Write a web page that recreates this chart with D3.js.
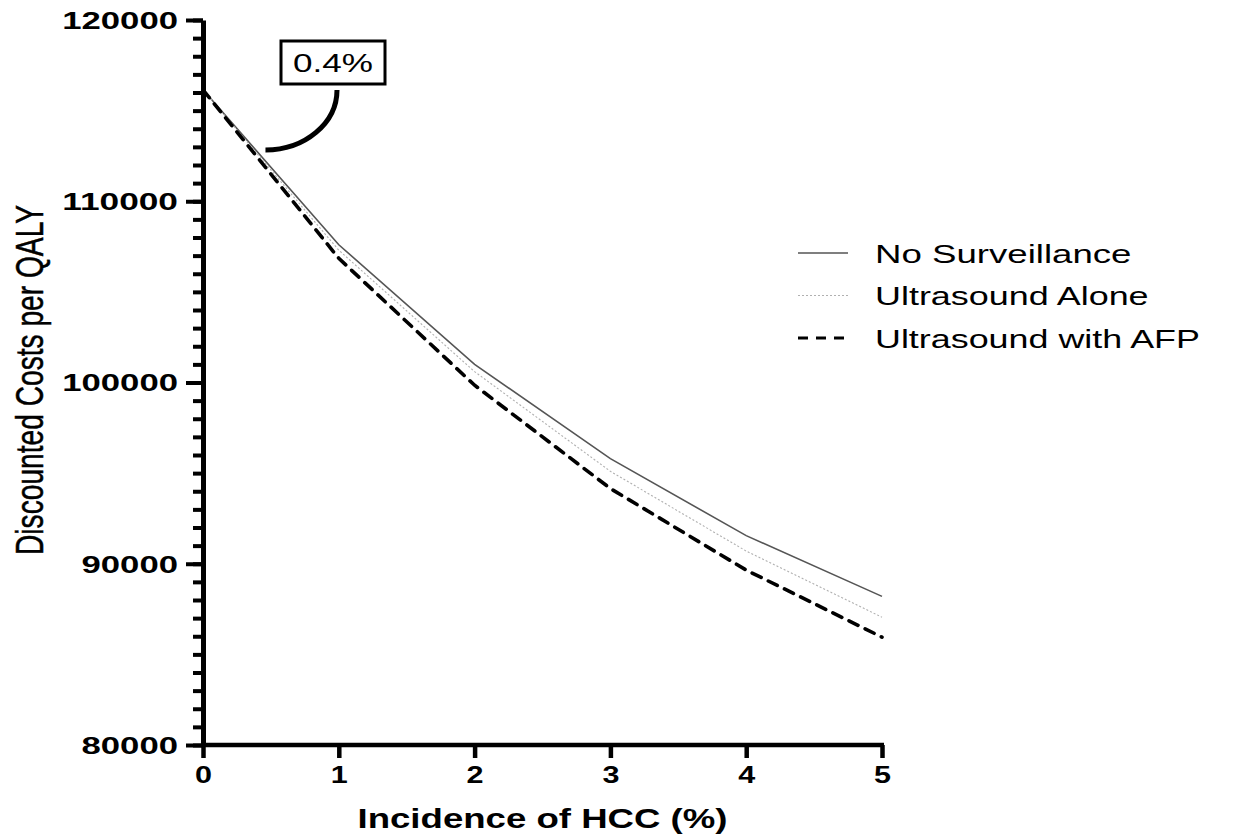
<!DOCTYPE html>
<html>
<head>
<meta charset="utf-8">
<script src="https://cdn.jsdelivr.net/npm/d3@7"></script>
<style>
  body { margin: 0; background: #fff; }
  text { font-family: "Liberation Sans", Arial, sans-serif; fill: #000; }
</style>
</head>
<body>
<svg></svg>
<script>
// values
const incidence = [0, 1, 2, 3, 4, 5];
const noSurveillance = [116150, 107600, 101000, 95800, 91550, 88200];
const ultrasoundAlone = [116150, 107300, 100600, 95100, 90700, 87050];
const ultrasoundAFP = [116150, 106850, 99850, 94150, 89650, 85950];

const seriesNames = ["No Surveillance", "Ultrasound Alone", "Ultrasound with AFP"];
const yMajorTicks = [80000, 90000, 100000, 110000, 120000];
const xTicks = [0, 1, 2, 3, 4, 5];
const thresholdLabel = "0.4%";

let width = 1233;
let height = 840;
let svg = d3.select('svg').attr('width', width).attr('height', height);

const xScale = d3.scaleLinear().domain([0, 5]).range([203, 882]);
const yScale = d3.scaleLinear().domain([80000, 120000]).range([745, 20]);

const styles = [
    { stroke: '#555', width: 1.6, dash: null },
    { stroke: '#b0b0b0', width: 1.1, dash: '2,2' },
    { stroke: '#000', width: 3.6, dash: '10,8' }
];
const allSeries = [noSurveillance, ultrasoundAlone, ultrasoundAFP];

// lines
const line = d3.line()
    .x((d, i) => xScale(incidence[i]))
    .y((d) => yScale(d));

svg.selectAll('path.series')
   .data(allSeries)
   .enter()
   .append('path')
   .attr('class', 'series')
   .attr('d', line)
   .attr('fill', 'none')
   .attr('stroke', (d, i) => styles[i].stroke)
   .attr('stroke-width', (d, i) => styles[i].width)
   .attr('stroke-dasharray', (d, i) => styles[i].dash)
   .attr('stroke-linecap', (d, i) => i == 2 ? 'round' : 'butt');

// y axis: minor ticks then major
const yMinor = d3.axisLeft(yScale)
    .tickValues(d3.range(80000, 120001, 1000))
    .tickSize(10)
    .tickFormat('');
svg.append('g')
   .attr('transform', 'translate(' + xScale(0) + ',0)')
   .call(yMinor)
   .call(g => g.select('.domain').remove())
   .selectAll('line').attr('stroke', '#000').attr('stroke-width', 4);

const yAxis = d3.axisLeft(yScale)
    .tickValues(yMajorTicks)
    .tickSize(17)
    .tickSizeOuter(0)
    .tickPadding(8)
    .tickFormat(d3.format('d'));
const gy = svg.append('g')
   .attr('id', 'y-axis')
   .attr('transform', 'translate(' + xScale(0) + ',0)')
   .call(yAxis);
gy.select('.domain').attr('stroke', '#000').attr('stroke-width', 5);
gy.selectAll('.tick line').attr('stroke', '#000').attr('stroke-width', 4);
gy.selectAll('.tick text')
  .attr('font-size', 23)
  .attr('font-weight', 'bold')
  .attr('dy', '0.36em')
  .attr('textLength', (d) => String(d).length * 19.3)
  .attr('lengthAdjust', 'spacingAndGlyphs');

// x axis
const xAxis = d3.axisBottom(xScale)
    .tickValues(xTicks)
    .tickSize(13)
    .tickSizeOuter(0)
    .tickPadding(9)
    .tickFormat(d3.format('d'));
const gx = svg.append('g')
   .attr('id', 'x-axis')
   .attr('transform', 'translate(0,' + yScale(80000) + ')')
   .call(xAxis);
gx.select('.domain').attr('stroke', '#000').attr('stroke-width', 4.5)
  .attr('d', 'M' + (xScale(0) - 2) + ',0H' + (xScale(5) + 2));
gx.selectAll('.tick line').attr('stroke', '#000').attr('stroke-width', 4.5);
gx.selectAll('.tick text')
  .attr('font-size', 23)
  .attr('font-weight', 'bold')
  .attr('textLength', 17)
  .attr('lengthAdjust', 'spacingAndGlyphs');

// axis titles
svg.append('text')
   .attr('x', (xScale(0) + xScale(5)) / 2)
   .attr('y', 828)
   .attr('text-anchor', 'middle')
   .attr('font-size', 28)
   .attr('font-weight', 'bold')
   .attr('textLength', 370)
   .attr('lengthAdjust', 'spacingAndGlyphs')
   .text('Incidence of HCC (%)');

svg.append('text')
   .attr('transform', 'translate(43,' + 380 + ') rotate(-90)')
   .attr('text-anchor', 'middle')
   .attr('font-size', 38)
   .attr('stroke', '#000')
   .attr('stroke-width', 0.5)
   .attr('textLength', 350)
   .attr('lengthAdjust', 'spacingAndGlyphs')
   .text('Discounted Costs per QALY');

// legend
const legend = svg.append('g');
seriesNames.forEach((name, i) => {
    let ly = 253 + i * 42.5;
    legend.append('line')
          .attr('x1', 798).attr('x2', 848)
          .attr('y1', ly).attr('y2', ly)
          .attr('stroke', styles[i].stroke)
          .attr('stroke-width', i == 2 ? 3.2 : styles[i].width)
          .attr('stroke-dasharray', styles[i].dash);
    legend.append('text')
          .attr('x', 875)
          .attr('y', ly + 9.5)
          .attr('font-size', 26)
          .attr('textLength', name.length * 17.1)
          .attr('lengthAdjust', 'spacingAndGlyphs')
          .text(name);
});

// 0.4% callout
const tipX = xScale(0.46), tipY = 150;
const boxCx = 333, boxTop = 41, boxBottom = 84;
svg.append('path')
   .attr('d', 'M' + (boxCx + 4) + ',' + (boxBottom + 6) +
              ' A' + (boxCx + 4 - tipX) + ',' + (tipY - boxBottom - 6) + ' 0 0 1 ' + tipX + ',' + tipY)
   .attr('fill', 'none')
   .attr('stroke', '#000')
   .attr('stroke-width', 5);
svg.append('rect')
   .attr('x', 281).attr('y', boxTop)
   .attr('width', 104).attr('height', boxBottom - boxTop)
   .attr('fill', '#fff')
   .attr('stroke', '#000')
   .attr('stroke-width', 3);
svg.append('text')
   .attr('x', boxCx)
   .attr('y', 72)
   .attr('text-anchor', 'middle')
   .attr('font-size', 26)
   .attr('textLength', 80)
   .attr('lengthAdjust', 'spacingAndGlyphs')
   .text(thresholdLabel);
</script>
</body>
</html>
